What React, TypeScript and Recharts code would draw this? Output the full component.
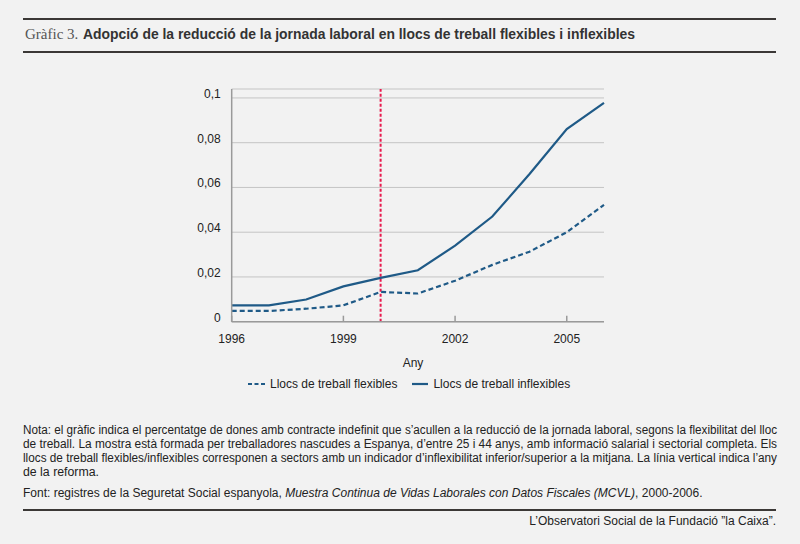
import { LineChart, Line, XAxis, YAxis, CartesianGrid, ReferenceLine } from "recharts";

const YEARS = [1996, 1997, 1998, 1999, 2000, 2001, 2002, 2003, 2004, 2005, 2006];
const FLEXIBLES = [0.0048, 0.0048, 0.0058, 0.0073, 0.0133, 0.0126, 0.0183, 0.0254, 0.0313, 0.04, 0.0522];
const INFLEXIBLES = [0.0073, 0.0073, 0.0099, 0.0158, 0.0196, 0.023, 0.034, 0.047, 0.066, 0.0861, 0.0978];
const X_TICKS = [1996, 1999, 2002, 2005];
const Y_TICKS = [0, 0.02, 0.04, 0.06, 0.08, 0.1];
const REFORM_YEAR = 2000;

const data = YEARS.map((any, i) => ({ any, flex: FLEXIBLES[i], inflex: INFLEXIBLES[i] }));

const BLUE = "#1f5a87";
const SANS = '"Liberation Sans", Arial, sans-serif';

const fmt = (v: number) => (v === 0 ? "0" : String(v).replace(".", ","));

const YTick = ({ x, y, payload }: any) => (
  <text x={x} y={y - 4} textAnchor="end" dominantBaseline="central" fontSize={12} fill="#222" fontFamily={SANS}>
    {fmt(payload.value)}
  </text>
);

const XTick = ({ x, y, payload }: any) => (
  <text x={x} y={y + 6} textAnchor="middle" dominantBaseline="central" fontSize={12} fill="#222" fontFamily={SANS}>
    {payload.value}
  </text>
);

const TITLE = "Adopció de la reducció de la jornada laboral en llocs de treball flexibles i inflexibles";

// justified note lines (the last one is left as is)
const NOTE_LINES = [
  "Nota: el gràfic indica el percentatge de dones amb contracte indefinit que s’acullen a la reducció de la jornada laboral, segons la flexibilitat del lloc",
  "de treball. La mostra està formada per treballadores nascudes a Espanya, d’entre 25 i 44 anys, amb informació salarial i sectorial completa. Els",
  "llocs de treball flexibles/inflexibles corresponen a sectors amb un indicador d’inflexibilitat inferior/superior a la mitjana. La línia vertical indica l’any",
];
const NOTE_LAST = "de la reforma.";

export default function App() {
  return (
    <div style={{ position: "absolute", left: 0, top: 0, width: 800, height: 544, background: "#f2f2f2", fontFamily: SANS, color: "#222", overflow: "hidden" }}>
      {/* title rules */}
      <div style={{ position: "absolute", left: 23, top: 18, width: 753, height: 2, background: "#3b3836" }} />
      <div style={{ position: "absolute", left: 23, top: 51, width: 753, height: 2, background: "#3b3836" }} />

      <div style={{ position: "absolute", left: 0, top: 0 }}>
        <LineChart width={800} height={360} data={data} margin={{ top: 89, right: 196, left: 191.7, bottom: 8.3 }}>
          <CartesianGrid vertical={false} stroke="#c4c4c4" strokeWidth={1} />
          <XAxis
            dataKey="any"
            type="number"
            domain={[1996, 2006]}
            ticks={X_TICKS}
            height={30}
            tickSize={-6}
            tickMargin={17.3}
            tickLine={{ stroke: "#9a9a9a", strokeWidth: 1.5 }}
            axisLine={{ stroke: "#9a9a9a", strokeWidth: 1.5 }}
            tick={<XTick />}
          />
          <YAxis
            type="number"
            domain={[0, 0.104]}
            ticks={Y_TICKS}
            width={40}
            tickSize={0}
            tickMargin={11}
            tickLine={false}
            axisLine={{ stroke: "#9a9a9a", strokeWidth: 1.5 }}
            tick={<YTick />}
          />
          <ReferenceLine x={REFORM_YEAR} stroke="#e8194c" strokeWidth={2} strokeDasharray="3 2" />
          <Line dataKey="flex" stroke={BLUE} strokeWidth={2.2} strokeDasharray="5 3" dot={false} isAnimationActive={false} />
          <Line dataKey="inflex" stroke={BLUE} strokeWidth={2.2} dot={false} isAnimationActive={false} />
        </LineChart>
      </div>

      {/* axis title */}
      <div style={{ position: "absolute", left: 363, width: 100, top: 355, height: 16, lineHeight: "16px", textAlign: "center", fontSize: 12 }}>Any</div>

      {/* legend */}
      <div style={{ position: "absolute", left: 248, top: 376, height: 16, lineHeight: "16px", fontSize: 12, whiteSpace: "nowrap", display: "flex", alignItems: "center" }}>
        <svg width={17} height={4} style={{ marginRight: 5 }}>
          <line x1={0} y1={2} x2={17} y2={2} stroke={BLUE} strokeWidth={2.2} strokeDasharray="4 2.5" />
        </svg>
        <span>Llocs de treball flexibles</span>
        <svg width={16} height={4} style={{ marginLeft: 15, marginRight: 5 }}>
          <line x1={0} y1={2} x2={16} y2={2} stroke={BLUE} strokeWidth={2.2} />
        </svg>
        <span>Llocs de treball inflexibles</span>
      </div>

      {/* title and notes as fitted svg text */}
      <svg width={800} height={544} style={{ position: "absolute", left: 0, top: 0, pointerEvents: "none" }}>
        <text x={25} y={39} fontFamily='"Liberation Serif", "Times New Roman", serif' fontSize={15} fill="#555">Gràfic 3.</text>
        <text x={83} y={39} fontFamily={SANS} fontWeight={700} fontSize={14} fill="#333" textLength={552} lengthAdjust="spacingAndGlyphs">
          {TITLE}
        </text>
        {NOTE_LINES.map((l, i) => (
          <text key={i} x={23} y={434.2 + i * 14} fontFamily={SANS} fontSize={12} fill="#222" textLength={754} lengthAdjust="spacingAndGlyphs">
            {l}
          </text>
        ))}
        <text x={23} y={434.2 + 3 * 14} fontFamily={SANS} fontSize={12} fill="#222" textLength={76} lengthAdjust="spacingAndGlyphs">{NOTE_LAST}</text>
      </svg>

      <div style={{ position: "absolute", left: 23, top: 486, fontSize: 12, lineHeight: "14px", whiteSpace: "nowrap" }}>
        Font: registres de la Seguretat Social espanyola, <i>Muestra Continua de Vidas Laborales con Datos Fiscales (MCVL)</i>, 2000-2006.
      </div>

      <div style={{ position: "absolute", left: 23, top: 509, width: 753, height: 2, background: "#3b3836" }} />
      <div style={{ position: "absolute", right: 24, top: 514, fontSize: 12, lineHeight: "14px", whiteSpace: "nowrap" }}>
        L’Observatori Social de la Fundació ”la Caixa”.
      </div>
    </div>
  );
}
